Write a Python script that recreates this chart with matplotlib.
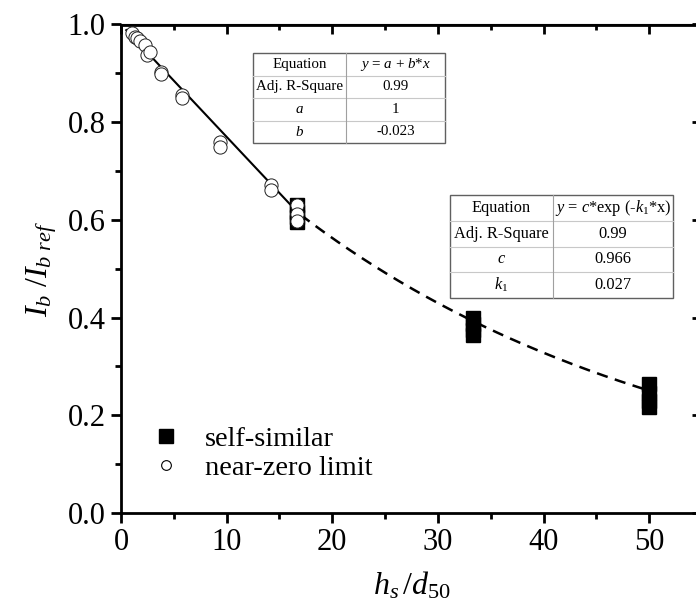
import numpy as np
import matplotlib
matplotlib.use("Agg")
import matplotlib.pyplot as plt
from matplotlib.lines import Line2D
from matplotlib.patches import Rectangle
from matplotlib.ticker import MultipleLocator

plt.rcParams['font.family'] = ['Liberation Serif', 'DejaVu Serif']
plt.rcParams['mathtext.fontset'] = 'custom'
plt.rcParams['mathtext.rm'] = 'Liberation Serif'
plt.rcParams['mathtext.it'] = 'Liberation Serif:italic'
plt.rcParams['mathtext.bf'] = 'Liberation Serif:bold'

# ---- data ----
self_x = [16.67, 16.67, 16.67, 16.67, 33.33, 33.33, 33.33, 33.33, 50, 50, 50, 50]
self_y = [0.595, 0.605, 0.617, 0.630, 0.364, 0.375, 0.387, 0.400, 0.216, 0.230, 0.246, 0.264]

near_x = [1.0, 1.3, 1.5, 1.8, 2.3, 2.5, 2.7, 3.8, 3.8, 5.8, 5.8, 9.4, 9.4, 14.2, 14.2, 16.7, 16.7, 16.7]
near_y = [0.982, 0.975, 0.972, 0.966, 0.958, 0.938, 0.944, 0.903, 0.898, 0.856, 0.849, 0.760, 0.750, 0.671, 0.661, 0.630, 0.612, 0.597]

lin_a, lin_b = 1.0, -0.023
exp_c, exp_k1 = 0.966, 0.027
lin_range = (0.5, 17.0)
exp_range = (17.0, 50.0)

legend_labels = ["self-similar", "near-zero limit"]

table1_rows = [["Equation", r"$y$ = $a$ + $b$*$x$"],
               ["Adj. R-Square", "0.99"],
               [r"$a$", "1"],
               [r"$b$", "-0.023"]]
table2_rows = [["Equation", r"$y$ = $c$*exp (-$k_{\mathrm{1}}$*x)"],
               ["Adj. R-Square", "0.99"],
               [r"$c$", "0.966"],
               [r"$k_{\mathrm{1}}$", "0.027"]]

# ---- figure ----
W, H = 696, 615
fig = plt.figure(figsize=(W / 100, H / 100), dpi=100)
L, R, T, B = 121, 702, 24.5, 513
ax = fig.add_axes([L / W, 1 - B / H, (R - L) / W, (B - T) / H])
ax.set_xlim(0, 55)
ax.set_ylim(0, 1.0)

# fits
xl = np.linspace(*lin_range, 100)
ax.plot(xl, lin_a + lin_b * xl, color='black', lw=1.5, zorder=2)
xe = np.linspace(*exp_range, 200)
ax.plot(xe, exp_c * np.exp(-exp_k1 * xe), color='black', lw=1.8, ls=(0, (4.5, 3)), zorder=2)

# points
ax.plot(self_x, self_y, ls='none', marker='s', ms=9.5, color='black', mec='black', mew=1, zorder=3)
ax.plot(near_x, near_y, ls='none', marker='o', ms=9.5, mfc='white', mec='#202020', mew=0.7, zorder=4)

# axes styling
for s in ax.spines.values():
    s.set_linewidth(2)
ax.xaxis.set_major_locator(MultipleLocator(10))
ax.xaxis.set_minor_locator(MultipleLocator(5))
ax.yaxis.set_major_locator(MultipleLocator(0.2))
ax.yaxis.set_minor_locator(MultipleLocator(0.1))
ax.tick_params(which='major', direction='out', length=7, width=2, labelsize=22, pad=4)
ax.tick_params(which='minor', direction='out', length=4, width=2)
ax.set_yticklabels([f"{v:.1f}" for v in ax.get_yticks()])

secx = ax.secondary_xaxis('top')
secx.xaxis.set_major_locator(MultipleLocator(10))
secx.xaxis.set_minor_locator(MultipleLocator(5))
secx.tick_params(which='major', direction='in', length=7, width=2, labeltop=False)
secx.tick_params(which='minor', direction='in', length=4, width=2)
secy = ax.secondary_yaxis('right')
secy.yaxis.set_major_locator(MultipleLocator(0.2))
secy.yaxis.set_minor_locator(MultipleLocator(0.1))
secy.tick_params(which='major', direction='in', length=7, width=2, labelright=False)
secy.tick_params(which='minor', direction='in', length=4, width=2)

ax.set_xlabel(r"$h_s\,/d_{50}$", fontsize=23, labelpad=9)
ax.set_ylabel(r"$I_b\ /I_{b\ ref}$", fontsize=23, labelpad=6)

# legend
handles = [Line2D([], [], ls='none', marker='s', ms=10, color='black'),
           Line2D([], [], ls='none', marker='o', ms=7, mfc='white', mec='black', mew=0.8)]
ax.legend(handles, legend_labels, loc='upper left', bbox_to_anchor=(135 / W, 1 - 412 / H),
          bbox_transform=fig.transFigure, frameon=False, fontsize=20.5,
          handlelength=1.2, handletextpad=0.75, labelspacing=0.1, borderpad=0)


def draw_table(rows, x0, x1, xm, y0, y1, fs):
    n = len(rows)
    rh = (y1 - y0) / n
    tr = fig.transFigure
    fig.add_artist(Rectangle((x0 / W, 1 - y1 / H), (x1 - x0) / W, (y1 - y0) / H, transform=tr,
                             fill=True, facecolor='white', edgecolor='none', zorder=-1))
    for i in range(1, n):
        yy = 1 - (y0 + i * rh) / H
        fig.add_artist(Line2D([x0 / W, x1 / W], [yy, yy], transform=tr, color='#c8c8c8', lw=0.8))
    fig.add_artist(Line2D([xm / W, xm / W], [1 - y0 / H, 1 - y1 / H], transform=tr, color='#a0a0a0', lw=0.8))
    fig.add_artist(Rectangle((x0 / W, 1 - y1 / H), (x1 - x0) / W, (y1 - y0) / H, transform=tr,
                             fill=False, edgecolor='#606060', lw=1.0))
    for i, (c1, c2) in enumerate(rows):
        yc = 1 - (y0 + (i + 0.5) * rh) / H
        fig.text((x0 + xm) / 2 / W, yc, c1, ha='center', va='center', fontsize=fs)
        fig.text((xm + x1) / 2 / W, yc, c2, ha='center', va='center', fontsize=fs)


draw_table(table1_rows, 253, 445, 346, 53, 143, 10.8)
draw_table(table2_rows, 450, 673, 553, 195, 298, 11.8)

fig.savefig("out.png", dpi=100)
